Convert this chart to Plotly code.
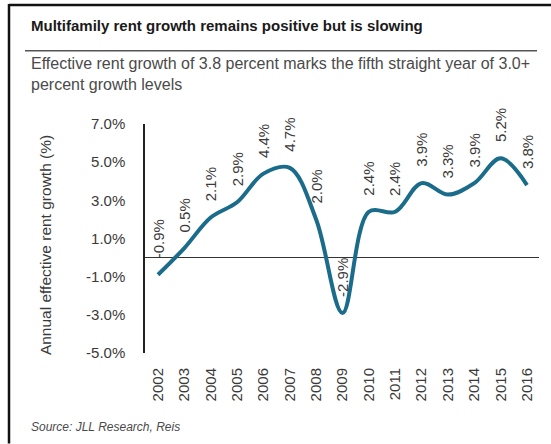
import plotly.graph_objects as go

years = [2002, 2003, 2004, 2005, 2006, 2007, 2008, 2009, 2010, 2011, 2012, 2013, 2014, 2015, 2016]
growth = [-0.9, 0.5, 2.1, 2.9, 4.4, 4.7, 2.0, -2.9, 2.4, 2.4, 3.9, 3.3, 3.9, 5.2, 3.8]
labels = ["-0.9%", "0.5%", "2.1%", "2.9%", "4.4%", "4.7%", "2.0%", "-2.9%", "2.4%", "2.4%",
          "3.9%", "3.3%", "3.9%", "5.2%", "3.8%"]
ytick_vals = [-5, -3, -1, 1, 3, 5, 7]
ytick_text = ["-5.0%", "-3.0%", "-1.0%", "1.0%", "3.0%", "5.0%", "7.0%"]

W, H = 551, 444
L, R, T, B = 145, 539, 123.5, 353.25

def px(x):
    return (x - L) / (R - L)

def py(y):
    return (B - y) / (B - T)

SANS = "Liberation Sans, Arial, sans-serif"
TEXT = "#3a3a3a"
LINE = "#1a6c8a"

fig = go.Figure()
fig.add_trace(go.Scatter(
    x=years, y=growth, mode="lines",
    line=dict(color=LINE, width=4, shape="spline", smoothing=1.0),
    hoverinfo="skip", showlegend=False,
))

annotations = []
for yr, v, lab in zip(years, growth, labels):
    annotations.append(dict(
        x=yr, y=v, xref="x", yref="y", text=lab, showarrow=False,
        textangle=-90, xanchor="center", yanchor="bottom", yshift=14,
        font=dict(family=SANS, size=15, color=TEXT),
    ))

annotations += [
    dict(x=px(29), y=py(25), xref="paper", yref="paper", xanchor="left", yanchor="middle",
         text="<b>Multifamily rent growth remains positive but is slowing</b>", showarrow=False,
         font=dict(family=SANS, size=15, color="#1a1a1a")),
    dict(x=px(29), y=py(73), xref="paper", yref="paper", xanchor="left", yanchor="middle",
         align="left",
         text="Effective rent growth of 3.8 percent marks the fifth straight year of 3.0+<br>percent growth levels",
         showarrow=False, font=dict(family=SANS, size=16, color="#4a4a4a")),
    dict(x=px(45), y=py(245), xref="paper", yref="paper", xanchor="center", yanchor="middle",
         text="Annual effective rent growth (%)", textangle=-90, showarrow=False,
         font=dict(family=SANS, size=15.5, color=TEXT)),
    dict(x=px(29), y=py(427), xref="paper", yref="paper", xanchor="left", yanchor="middle",
         text="<i>Source: JLL Research, Reis</i>", showarrow=False,
         font=dict(family=SANS, size=12, color="#4a4a4a")),
]

shapes = [
    dict(type="line", xref="paper", yref="paper", x0=px(9), x1=px(551), y0=py(4), y1=py(4),
         line=dict(color="#111", width=2.5)),
    dict(type="line", xref="paper", yref="paper", x0=px(9), x1=px(9), y0=py(3), y1=py(444),
         line=dict(color="#111", width=2.5)),
    dict(type="line", xref="paper", yref="paper", x0=px(25), x1=px(537), y0=py(50), y1=py(50),
         line=dict(color="#555", width=1.5)),
]

scale = (527 - 158) / 14.0
x0 = 2002 - (158 - L) / scale
x1 = 2016 + (R - 527) / scale

fig.update_layout(
    width=W, height=H,
    margin=dict(l=L, r=W - R, t=T, b=H - B, pad=0),
    paper_bgcolor="white", plot_bgcolor="white",
    xaxis=dict(range=[x0, x1], tickvals=years, ticktext=[str(y) for y in years],
               tickangle=-90, showgrid=False, showline=False, zeroline=False,
               ticks="", ticklabelstandoff=11,
               tickfont=dict(family=SANS, size=15, color=TEXT), fixedrange=True),
    yaxis=dict(range=[-5, 7], tickvals=ytick_vals, ticktext=ytick_text,
               showgrid=False, showline=True, linecolor="#222", linewidth=1.5,
               zeroline=True, zerolinecolor="#333", zerolinewidth=1.2,
               ticks="outside", ticklen=15, tickcolor="rgba(0,0,0,0)",
               tickfont=dict(family=SANS, size=15, color=TEXT), fixedrange=True),
    annotations=annotations, shapes=shapes,
)

fig.write_html("out.html", config={"displayModeBar": False},
               post_script="document.body.style.margin='0';document.body.style.padding='0';")
